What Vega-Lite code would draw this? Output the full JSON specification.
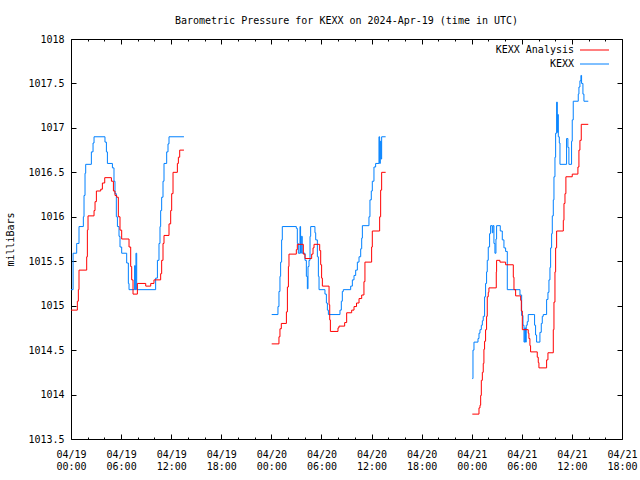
{
  "$schema": "https://vega.github.io/schema/vega-lite/v6.json",
  "autosize": "none",
  "width": 551,
  "height": 400,
  "padding": {"left": 71, "top": 39, "right": 18, "bottom": 41},
  "background": "white",
  "title": {"text": "Barometric Pressure for KEXX on 2024-Apr-19 (time in UTC)", "font": "DejaVu Sans Mono", "fontSize": 10, "fontWeight": "normal", "anchor": "middle", "offset": 8, "color": "black"},
  "config": {
    "view": {"stroke": "black", "strokeWidth": 1},
    "axis": {"domain": false, "grid": false, "tickColor": "black", "tickWidth": 1, "labelColor": "black", "labelFont": "DejaVu Sans Mono", "labelFontSize": 10, "titleFont": "DejaVu Sans Mono", "titleFontSize": 10, "titleFontWeight": "normal", "titleColor": "black"}
  },
  "datasets": {
    "pressure": [
      {"series": "KEXX", "run": 1, "hour": 0.00, "mb": 1015.18},
      {"series": "KEXX", "run": 1, "hour": 0.25, "mb": 1015.59},
      {"series": "KEXX", "run": 1, "hour": 0.68, "mb": 1015.70},
      {"series": "KEXX", "run": 1, "hour": 0.96, "mb": 1015.89},
      {"series": "KEXX", "run": 1, "hour": 1.48, "mb": 1016.00},
      {"series": "KEXX", "run": 1, "hour": 1.56, "mb": 1016.24},
      {"series": "KEXX", "run": 1, "hour": 1.68, "mb": 1016.49},
      {"series": "KEXX", "run": 1, "hour": 1.76, "mb": 1016.59},
      {"series": "KEXX", "run": 1, "hour": 2.44, "mb": 1016.73},
      {"series": "KEXX", "run": 1, "hour": 2.64, "mb": 1016.83},
      {"series": "KEXX", "run": 1, "hour": 2.76, "mb": 1016.90},
      {"series": "KEXX", "run": 1, "hour": 4.07, "mb": 1016.84},
      {"series": "KEXX", "run": 1, "hour": 4.24, "mb": 1016.73},
      {"series": "KEXX", "run": 1, "hour": 4.36, "mb": 1016.60},
      {"series": "KEXX", "run": 1, "hour": 4.96, "mb": 1016.55},
      {"series": "KEXX", "run": 1, "hour": 5.15, "mb": 1016.40},
      {"series": "KEXX", "run": 1, "hour": 5.27, "mb": 1016.26},
      {"series": "KEXX", "run": 1, "hour": 5.43, "mb": 1016.00},
      {"series": "KEXX", "run": 1, "hour": 5.56, "mb": 1015.89},
      {"series": "KEXX", "run": 1, "hour": 5.75, "mb": 1015.78},
      {"series": "KEXX", "run": 1, "hour": 5.87, "mb": 1015.66},
      {"series": "KEXX", "run": 1, "hour": 6.07, "mb": 1015.59},
      {"series": "KEXX", "run": 1, "hour": 6.67, "mb": 1015.48},
      {"series": "KEXX", "run": 1, "hour": 6.87, "mb": 1015.25},
      {"series": "KEXX", "run": 1, "hour": 6.95, "mb": 1015.18},
      {"series": "KEXX", "run": 1, "hour": 7.62, "mb": 1015.45},
      {"series": "KEXX", "run": 1, "hour": 7.70, "mb": 1015.18},
      {"series": "KEXX", "run": 1, "hour": 7.78, "mb": 1015.59},
      {"series": "KEXX", "run": 1, "hour": 7.87, "mb": 1015.18},
      {"series": "KEXX", "run": 1, "hour": 10.14, "mb": 1015.31},
      {"series": "KEXX", "run": 1, "hour": 10.35, "mb": 1015.51},
      {"series": "KEXX", "run": 1, "hour": 10.54, "mb": 1015.70},
      {"series": "KEXX", "run": 1, "hour": 10.66, "mb": 1015.89},
      {"series": "KEXX", "run": 1, "hour": 10.74, "mb": 1016.07},
      {"series": "KEXX", "run": 1, "hour": 10.86, "mb": 1016.22},
      {"series": "KEXX", "run": 1, "hour": 11.02, "mb": 1016.40},
      {"series": "KEXX", "run": 1, "hour": 11.14, "mb": 1016.60},
      {"series": "KEXX", "run": 1, "hour": 11.46, "mb": 1016.73},
      {"series": "KEXX", "run": 1, "hour": 11.62, "mb": 1016.82},
      {"series": "KEXX", "run": 1, "hour": 11.74, "mb": 1016.90},
      {"series": "KEXX", "run": 1, "hour": 13.53, "mb": 1016.90},

      {"series": "KEXX Analysis", "run": 1, "hour": 0.00, "mb": 1014.95},
      {"series": "KEXX Analysis", "run": 1, "hour": 0.76, "mb": 1015.05},
      {"series": "KEXX Analysis", "run": 1, "hour": 0.88, "mb": 1015.18},
      {"series": "KEXX Analysis", "run": 1, "hour": 0.96, "mb": 1015.40},
      {"series": "KEXX Analysis", "run": 1, "hour": 1.88, "mb": 1015.55},
      {"series": "KEXX Analysis", "run": 1, "hour": 1.96, "mb": 1015.85},
      {"series": "KEXX Analysis", "run": 1, "hour": 2.04, "mb": 1016.01},
      {"series": "KEXX Analysis", "run": 1, "hour": 2.76, "mb": 1016.07},
      {"series": "KEXX Analysis", "run": 1, "hour": 2.88, "mb": 1016.17},
      {"series": "KEXX Analysis", "run": 1, "hour": 3.04, "mb": 1016.29},
      {"series": "KEXX Analysis", "run": 1, "hour": 3.56, "mb": 1016.31},
      {"series": "KEXX Analysis", "run": 1, "hour": 3.76, "mb": 1016.38},
      {"series": "KEXX Analysis", "run": 1, "hour": 4.04, "mb": 1016.44},
      {"series": "KEXX Analysis", "run": 1, "hour": 4.84, "mb": 1016.40},
      {"series": "KEXX Analysis", "run": 1, "hour": 5.08, "mb": 1016.29},
      {"series": "KEXX Analysis", "run": 1, "hour": 5.27, "mb": 1016.24},
      {"series": "KEXX Analysis", "run": 1, "hour": 5.47, "mb": 1016.22},
      {"series": "KEXX Analysis", "run": 1, "hour": 5.67, "mb": 1016.00},
      {"series": "KEXX Analysis", "run": 1, "hour": 5.87, "mb": 1015.85},
      {"series": "KEXX Analysis", "run": 1, "hour": 6.07, "mb": 1015.75},
      {"series": "KEXX Analysis", "run": 1, "hour": 6.95, "mb": 1015.66},
      {"series": "KEXX Analysis", "run": 1, "hour": 7.15, "mb": 1015.44},
      {"series": "KEXX Analysis", "run": 1, "hour": 7.27, "mb": 1015.29},
      {"series": "KEXX Analysis", "run": 1, "hour": 7.43, "mb": 1015.13},
      {"series": "KEXX Analysis", "run": 1, "hour": 7.95, "mb": 1015.25},
      {"series": "KEXX Analysis", "run": 1, "hour": 8.95, "mb": 1015.22},
      {"series": "KEXX Analysis", "run": 1, "hour": 9.55, "mb": 1015.25},
      {"series": "KEXX Analysis", "run": 1, "hour": 9.94, "mb": 1015.29},
      {"series": "KEXX Analysis", "run": 1, "hour": 10.74, "mb": 1015.36},
      {"series": "KEXX Analysis", "run": 1, "hour": 10.86, "mb": 1015.51},
      {"series": "KEXX Analysis", "run": 1, "hour": 11.02, "mb": 1015.70},
      {"series": "KEXX Analysis", "run": 1, "hour": 11.14, "mb": 1015.79},
      {"series": "KEXX Analysis", "run": 1, "hour": 11.74, "mb": 1015.92},
      {"series": "KEXX Analysis", "run": 1, "hour": 11.94, "mb": 1016.07},
      {"series": "KEXX Analysis", "run": 1, "hour": 12.06, "mb": 1016.26},
      {"series": "KEXX Analysis", "run": 1, "hour": 12.22, "mb": 1016.50},
      {"series": "KEXX Analysis", "run": 1, "hour": 12.74, "mb": 1016.60},
      {"series": "KEXX Analysis", "run": 1, "hour": 12.86, "mb": 1016.67},
      {"series": "KEXX Analysis", "run": 1, "hour": 13.02, "mb": 1016.75},
      {"series": "KEXX Analysis", "run": 1, "hour": 13.53, "mb": 1016.75},

      {"series": "KEXX", "run": 2, "hour": 24.04, "mb": 1014.90},
      {"series": "KEXX", "run": 2, "hour": 24.79, "mb": 1014.99},
      {"series": "KEXX", "run": 2, "hour": 24.91, "mb": 1015.16},
      {"series": "KEXX", "run": 2, "hour": 25.03, "mb": 1015.33},
      {"series": "KEXX", "run": 2, "hour": 25.11, "mb": 1015.49},
      {"series": "KEXX", "run": 2, "hour": 25.23, "mb": 1015.74},
      {"series": "KEXX", "run": 2, "hour": 25.31, "mb": 1015.89},
      {"series": "KEXX", "run": 2, "hour": 26.99, "mb": 1015.87},
      {"series": "KEXX", "run": 2, "hour": 27.11, "mb": 1015.70},
      {"series": "KEXX", "run": 2, "hour": 27.23, "mb": 1015.59},
      {"series": "KEXX", "run": 2, "hour": 27.43, "mb": 1015.89},
      {"series": "KEXX", "run": 2, "hour": 27.50, "mb": 1015.59},
      {"series": "KEXX", "run": 2, "hour": 27.59, "mb": 1015.78},
      {"series": "KEXX", "run": 2, "hour": 27.70, "mb": 1015.59},
      {"series": "KEXX", "run": 2, "hour": 28.03, "mb": 1015.51},
      {"series": "KEXX", "run": 2, "hour": 28.19, "mb": 1015.33},
      {"series": "KEXX", "run": 2, "hour": 28.31, "mb": 1015.19},
      {"series": "KEXX", "run": 2, "hour": 28.39, "mb": 1015.44},
      {"series": "KEXX", "run": 2, "hour": 28.51, "mb": 1015.51},
      {"series": "KEXX", "run": 2, "hour": 28.63, "mb": 1015.78},
      {"series": "KEXX", "run": 2, "hour": 28.71, "mb": 1015.89},
      {"series": "KEXX", "run": 2, "hour": 29.22, "mb": 1015.82},
      {"series": "KEXX", "run": 2, "hour": 29.31, "mb": 1015.74},
      {"series": "KEXX", "run": 2, "hour": 29.51, "mb": 1015.55},
      {"series": "KEXX", "run": 2, "hour": 29.63, "mb": 1015.33},
      {"series": "KEXX", "run": 2, "hour": 29.71, "mb": 1015.18},
      {"series": "KEXX", "run": 2, "hour": 30.42, "mb": 1015.13},
      {"series": "KEXX", "run": 2, "hour": 30.59, "mb": 1015.03},
      {"series": "KEXX", "run": 2, "hour": 30.71, "mb": 1014.95},
      {"series": "KEXX", "run": 2, "hour": 30.83, "mb": 1014.90},
      {"series": "KEXX", "run": 2, "hour": 32.22, "mb": 1014.95},
      {"series": "KEXX", "run": 2, "hour": 32.38, "mb": 1015.05},
      {"series": "KEXX", "run": 2, "hour": 32.50, "mb": 1015.16},
      {"series": "KEXX", "run": 2, "hour": 32.62, "mb": 1015.18},
      {"series": "KEXX", "run": 2, "hour": 33.50, "mb": 1015.22},
      {"series": "KEXX", "run": 2, "hour": 33.70, "mb": 1015.29},
      {"series": "KEXX", "run": 2, "hour": 33.90, "mb": 1015.34},
      {"series": "KEXX", "run": 2, "hour": 34.10, "mb": 1015.40},
      {"series": "KEXX", "run": 2, "hour": 34.30, "mb": 1015.49},
      {"series": "KEXX", "run": 2, "hour": 34.50, "mb": 1015.55},
      {"series": "KEXX", "run": 2, "hour": 34.70, "mb": 1015.64},
      {"series": "KEXX", "run": 2, "hour": 34.82, "mb": 1015.76},
      {"series": "KEXX", "run": 2, "hour": 34.90, "mb": 1015.90},
      {"series": "KEXX", "run": 2, "hour": 35.69, "mb": 1016.00},
      {"series": "KEXX", "run": 2, "hour": 35.81, "mb": 1016.19},
      {"series": "KEXX", "run": 2, "hour": 35.97, "mb": 1016.29},
      {"series": "KEXX", "run": 2, "hour": 36.09, "mb": 1016.40},
      {"series": "KEXX", "run": 2, "hour": 36.29, "mb": 1016.56},
      {"series": "KEXX", "run": 2, "hour": 36.49, "mb": 1016.60},
      {"series": "KEXX", "run": 2, "hour": 36.89, "mb": 1016.90},
      {"series": "KEXX", "run": 2, "hour": 36.97, "mb": 1016.60},
      {"series": "KEXX", "run": 2, "hour": 37.05, "mb": 1016.85},
      {"series": "KEXX", "run": 2, "hour": 37.13, "mb": 1016.65},
      {"series": "KEXX", "run": 2, "hour": 37.21, "mb": 1016.90},
      {"series": "KEXX", "run": 2, "hour": 37.69, "mb": 1016.90},

      {"series": "KEXX Analysis", "run": 2, "hour": 24.04, "mb": 1014.57},
      {"series": "KEXX Analysis", "run": 2, "hour": 24.91, "mb": 1014.65},
      {"series": "KEXX Analysis", "run": 2, "hour": 25.03, "mb": 1014.74},
      {"series": "KEXX Analysis", "run": 2, "hour": 25.19, "mb": 1014.80},
      {"series": "KEXX Analysis", "run": 2, "hour": 25.80, "mb": 1014.93},
      {"series": "KEXX Analysis", "run": 2, "hour": 25.92, "mb": 1015.21},
      {"series": "KEXX Analysis", "run": 2, "hour": 26.04, "mb": 1015.44},
      {"series": "KEXX Analysis", "run": 2, "hour": 26.11, "mb": 1015.58},
      {"series": "KEXX Analysis", "run": 2, "hour": 26.99, "mb": 1015.63},
      {"series": "KEXX Analysis", "run": 2, "hour": 27.11, "mb": 1015.69},
      {"series": "KEXX Analysis", "run": 2, "hour": 27.83, "mb": 1015.58},
      {"series": "KEXX Analysis", "run": 2, "hour": 28.03, "mb": 1015.53},
      {"series": "KEXX Analysis", "run": 2, "hour": 28.83, "mb": 1015.58},
      {"series": "KEXX Analysis", "run": 2, "hour": 28.99, "mb": 1015.65},
      {"series": "KEXX Analysis", "run": 2, "hour": 29.11, "mb": 1015.69},
      {"series": "KEXX Analysis", "run": 2, "hour": 29.79, "mb": 1015.62},
      {"series": "KEXX Analysis", "run": 2, "hour": 29.91, "mb": 1015.46},
      {"series": "KEXX Analysis", "run": 2, "hour": 30.02, "mb": 1015.31},
      {"series": "KEXX Analysis", "run": 2, "hour": 30.11, "mb": 1015.22},
      {"series": "KEXX Analysis", "run": 2, "hour": 30.91, "mb": 1015.01},
      {"series": "KEXX Analysis", "run": 2, "hour": 30.99, "mb": 1014.84},
      {"series": "KEXX Analysis", "run": 2, "hour": 31.07, "mb": 1014.71},
      {"series": "KEXX Analysis", "run": 2, "hour": 31.98, "mb": 1014.75},
      {"series": "KEXX Analysis", "run": 2, "hour": 32.10, "mb": 1014.77},
      {"series": "KEXX Analysis", "run": 2, "hour": 32.78, "mb": 1014.81},
      {"series": "KEXX Analysis", "run": 2, "hour": 33.02, "mb": 1014.92},
      {"series": "KEXX Analysis", "run": 2, "hour": 33.62, "mb": 1014.95},
      {"series": "KEXX Analysis", "run": 2, "hour": 33.90, "mb": 1014.99},
      {"series": "KEXX Analysis", "run": 2, "hour": 34.20, "mb": 1015.03},
      {"series": "KEXX Analysis", "run": 2, "hour": 34.50, "mb": 1015.08},
      {"series": "KEXX Analysis", "run": 2, "hour": 34.82, "mb": 1015.12},
      {"series": "KEXX Analysis", "run": 2, "hour": 35.09, "mb": 1015.27},
      {"series": "KEXX Analysis", "run": 2, "hour": 35.21, "mb": 1015.49},
      {"series": "KEXX Analysis", "run": 2, "hour": 36.01, "mb": 1015.66},
      {"series": "KEXX Analysis", "run": 2, "hour": 36.09, "mb": 1015.84},
      {"series": "KEXX Analysis", "run": 2, "hour": 36.97, "mb": 1016.00},
      {"series": "KEXX Analysis", "run": 2, "hour": 37.09, "mb": 1016.30},
      {"series": "KEXX Analysis", "run": 2, "hour": 37.21, "mb": 1016.50},
      {"series": "KEXX Analysis", "run": 2, "hour": 37.69, "mb": 1016.50},

      {"series": "KEXX", "run": 3, "hour": 48.07, "mb": 1014.18},
      {"series": "KEXX", "run": 3, "hour": 48.15, "mb": 1014.50},
      {"series": "KEXX", "run": 3, "hour": 48.27, "mb": 1014.59},
      {"series": "KEXX", "run": 3, "hour": 48.75, "mb": 1014.63},
      {"series": "KEXX", "run": 3, "hour": 48.87, "mb": 1014.69},
      {"series": "KEXX", "run": 3, "hour": 48.99, "mb": 1014.73},
      {"series": "KEXX", "run": 3, "hour": 49.15, "mb": 1014.78},
      {"series": "KEXX", "run": 3, "hour": 49.27, "mb": 1014.83},
      {"series": "KEXX", "run": 3, "hour": 49.38, "mb": 1014.88},
      {"series": "KEXX", "run": 3, "hour": 49.54, "mb": 1015.10},
      {"series": "KEXX", "run": 3, "hour": 49.66, "mb": 1015.25},
      {"series": "KEXX", "run": 3, "hour": 49.78, "mb": 1015.38},
      {"series": "KEXX", "run": 3, "hour": 49.86, "mb": 1015.51},
      {"series": "KEXX", "run": 3, "hour": 49.98, "mb": 1015.66},
      {"series": "KEXX", "run": 3, "hour": 50.14, "mb": 1015.81},
      {"series": "KEXX", "run": 3, "hour": 50.26, "mb": 1015.90},
      {"series": "KEXX", "run": 3, "hour": 50.46, "mb": 1015.82},
      {"series": "KEXX", "run": 3, "hour": 50.54, "mb": 1015.90},
      {"series": "KEXX", "run": 3, "hour": 50.66, "mb": 1015.70},
      {"series": "KEXX", "run": 3, "hour": 50.78, "mb": 1015.59},
      {"series": "KEXX", "run": 3, "hour": 50.90, "mb": 1015.75},
      {"series": "KEXX", "run": 3, "hour": 50.98, "mb": 1015.90},
      {"series": "KEXX", "run": 3, "hour": 51.42, "mb": 1015.84},
      {"series": "KEXX", "run": 3, "hour": 51.66, "mb": 1015.74},
      {"series": "KEXX", "run": 3, "hour": 51.86, "mb": 1015.65},
      {"series": "KEXX", "run": 3, "hour": 52.06, "mb": 1015.61},
      {"series": "KEXX", "run": 3, "hour": 52.26, "mb": 1015.18},
      {"series": "KEXX", "run": 3, "hour": 53.78, "mb": 1015.12},
      {"series": "KEXX", "run": 3, "hour": 53.98, "mb": 1014.89},
      {"series": "KEXX", "run": 3, "hour": 54.14, "mb": 1014.78},
      {"series": "KEXX", "run": 3, "hour": 54.26, "mb": 1014.59},
      {"series": "KEXX", "run": 3, "hour": 54.35, "mb": 1014.75},
      {"series": "KEXX", "run": 3, "hour": 54.45, "mb": 1014.59},
      {"series": "KEXX", "run": 3, "hour": 54.53, "mb": 1014.78},
      {"series": "KEXX", "run": 3, "hour": 54.65, "mb": 1014.82},
      {"series": "KEXX", "run": 3, "hour": 54.77, "mb": 1014.90},
      {"series": "KEXX", "run": 3, "hour": 55.45, "mb": 1014.90},
      {"series": "KEXX", "run": 3, "hour": 55.53, "mb": 1014.78},
      {"series": "KEXX", "run": 3, "hour": 55.65, "mb": 1014.67},
      {"series": "KEXX", "run": 3, "hour": 55.77, "mb": 1014.59},
      {"series": "KEXX", "run": 3, "hour": 56.17, "mb": 1014.70},
      {"series": "KEXX", "run": 3, "hour": 56.33, "mb": 1014.80},
      {"series": "KEXX", "run": 3, "hour": 56.45, "mb": 1014.88},
      {"series": "KEXX", "run": 3, "hour": 56.57, "mb": 1014.90},
      {"series": "KEXX", "run": 3, "hour": 56.97, "mb": 1015.07},
      {"series": "KEXX", "run": 3, "hour": 57.13, "mb": 1015.15},
      {"series": "KEXX", "run": 3, "hour": 57.25, "mb": 1015.29},
      {"series": "KEXX", "run": 3, "hour": 57.37, "mb": 1015.43},
      {"series": "KEXX", "run": 3, "hour": 57.45, "mb": 1015.65},
      {"series": "KEXX", "run": 3, "hour": 57.57, "mb": 1015.81},
      {"series": "KEXX", "run": 3, "hour": 57.65, "mb": 1016.01},
      {"series": "KEXX", "run": 3, "hour": 57.77, "mb": 1016.19},
      {"series": "KEXX", "run": 3, "hour": 57.85, "mb": 1016.45},
      {"series": "KEXX", "run": 3, "hour": 57.97, "mb": 1016.67},
      {"series": "KEXX", "run": 3, "hour": 58.05, "mb": 1016.94},
      {"series": "KEXX", "run": 3, "hour": 58.17, "mb": 1017.29},
      {"series": "KEXX", "run": 3, "hour": 58.25, "mb": 1016.95},
      {"series": "KEXX", "run": 3, "hour": 58.31, "mb": 1017.15},
      {"series": "KEXX", "run": 3, "hour": 58.37, "mb": 1016.90},
      {"series": "KEXX", "run": 3, "hour": 58.49, "mb": 1016.83},
      {"series": "KEXX", "run": 3, "hour": 58.57, "mb": 1016.59},
      {"series": "KEXX", "run": 3, "hour": 59.36, "mb": 1016.88},
      {"series": "KEXX", "run": 3, "hour": 59.52, "mb": 1016.78},
      {"series": "KEXX", "run": 3, "hour": 59.64, "mb": 1016.59},
      {"series": "KEXX", "run": 3, "hour": 59.96, "mb": 1016.85},
      {"series": "KEXX", "run": 3, "hour": 60.04, "mb": 1017.09},
      {"series": "KEXX", "run": 3, "hour": 60.16, "mb": 1017.30},
      {"series": "KEXX", "run": 3, "hour": 60.76, "mb": 1017.38},
      {"series": "KEXX", "run": 3, "hour": 60.84, "mb": 1017.46},
      {"series": "KEXX", "run": 3, "hour": 60.96, "mb": 1017.53},
      {"series": "KEXX", "run": 3, "hour": 61.08, "mb": 1017.59},
      {"series": "KEXX", "run": 3, "hour": 61.16, "mb": 1017.50},
      {"series": "KEXX", "run": 3, "hour": 61.32, "mb": 1017.38},
      {"series": "KEXX", "run": 3, "hour": 61.44, "mb": 1017.30},
      {"series": "KEXX", "run": 3, "hour": 61.96, "mb": 1017.30},

      {"series": "KEXX Analysis", "run": 3, "hour": 48.07, "mb": 1013.78},
      {"series": "KEXX Analysis", "run": 3, "hour": 48.87, "mb": 1013.85},
      {"series": "KEXX Analysis", "run": 3, "hour": 48.99, "mb": 1013.88},
      {"series": "KEXX Analysis", "run": 3, "hour": 49.07, "mb": 1013.99},
      {"series": "KEXX Analysis", "run": 3, "hour": 49.15, "mb": 1014.16},
      {"series": "KEXX Analysis", "run": 3, "hour": 49.27, "mb": 1014.25},
      {"series": "KEXX Analysis", "run": 3, "hour": 49.38, "mb": 1014.35},
      {"series": "KEXX Analysis", "run": 3, "hour": 49.46, "mb": 1014.51},
      {"series": "KEXX Analysis", "run": 3, "hour": 49.54, "mb": 1014.60},
      {"series": "KEXX Analysis", "run": 3, "hour": 49.66, "mb": 1014.73},
      {"series": "KEXX Analysis", "run": 3, "hour": 49.78, "mb": 1014.88},
      {"series": "KEXX Analysis", "run": 3, "hour": 49.86, "mb": 1015.10},
      {"series": "KEXX Analysis", "run": 3, "hour": 49.98, "mb": 1015.15},
      {"series": "KEXX Analysis", "run": 3, "hour": 50.06, "mb": 1015.20},
      {"series": "KEXX Analysis", "run": 3, "hour": 50.94, "mb": 1015.38},
      {"series": "KEXX Analysis", "run": 3, "hour": 50.98, "mb": 1015.51},
      {"series": "KEXX Analysis", "run": 3, "hour": 51.38, "mb": 1015.49},
      {"series": "KEXX Analysis", "run": 3, "hour": 52.06, "mb": 1015.46},
      {"series": "KEXX Analysis", "run": 3, "hour": 52.98, "mb": 1015.32},
      {"series": "KEXX Analysis", "run": 3, "hour": 53.06, "mb": 1015.18},
      {"series": "KEXX Analysis", "run": 3, "hour": 53.26, "mb": 1015.11},
      {"series": "KEXX Analysis", "run": 3, "hour": 53.86, "mb": 1015.06},
      {"series": "KEXX Analysis", "run": 3, "hour": 53.94, "mb": 1014.94},
      {"series": "KEXX Analysis", "run": 3, "hour": 54.06, "mb": 1014.73},
      {"series": "KEXX Analysis", "run": 3, "hour": 54.77, "mb": 1014.69},
      {"series": "KEXX Analysis", "run": 3, "hour": 54.85, "mb": 1014.63},
      {"series": "KEXX Analysis", "run": 3, "hour": 54.97, "mb": 1014.55},
      {"series": "KEXX Analysis", "run": 3, "hour": 55.05, "mb": 1014.48},
      {"series": "KEXX Analysis", "run": 3, "hour": 55.85, "mb": 1014.42},
      {"series": "KEXX Analysis", "run": 3, "hour": 55.97, "mb": 1014.36},
      {"series": "KEXX Analysis", "run": 3, "hour": 56.05, "mb": 1014.30},
      {"series": "KEXX Analysis", "run": 3, "hour": 56.97, "mb": 1014.39},
      {"series": "KEXX Analysis", "run": 3, "hour": 57.13, "mb": 1014.47},
      {"series": "KEXX Analysis", "run": 3, "hour": 57.77, "mb": 1014.73},
      {"series": "KEXX Analysis", "run": 3, "hour": 57.85, "mb": 1015.04},
      {"series": "KEXX Analysis", "run": 3, "hour": 57.97, "mb": 1015.38},
      {"series": "KEXX Analysis", "run": 3, "hour": 58.05, "mb": 1015.65},
      {"series": "KEXX Analysis", "run": 3, "hour": 58.17, "mb": 1015.84},
      {"series": "KEXX Analysis", "run": 3, "hour": 58.97, "mb": 1015.96},
      {"series": "KEXX Analysis", "run": 3, "hour": 59.05, "mb": 1016.15},
      {"series": "KEXX Analysis", "run": 3, "hour": 59.17, "mb": 1016.26},
      {"series": "KEXX Analysis", "run": 3, "hour": 59.28, "mb": 1016.45},
      {"series": "KEXX Analysis", "run": 3, "hour": 60.04, "mb": 1016.48},
      {"series": "KEXX Analysis", "run": 3, "hour": 60.72, "mb": 1016.56},
      {"series": "KEXX Analysis", "run": 3, "hour": 60.84, "mb": 1016.75},
      {"series": "KEXX Analysis", "run": 3, "hour": 60.96, "mb": 1016.86},
      {"series": "KEXX Analysis", "run": 3, "hour": 61.12, "mb": 1017.04},
      {"series": "KEXX Analysis", "run": 3, "hour": 61.96, "mb": 1017.04}
    ]
  },
  "data": {"name": "pressure"},
  "layer": [
    {
      "mark": {"type": "line", "interpolate": "step-after", "strokeWidth": 1},
      "encoding": {
        "x": {"field": "hour", "type": "quantitative",
              "scale": {"domain": [0, 66], "nice": false, "zero": false},
              "axis": {"orient": "bottom", "title": null,
                       "values": [0,2,4,6,8,10,12,14,16,18,20,22,24,26,28,30,32,34,36,38,40,42,44,46,48,50,52,54,56,58,60,62,64,66],
                       "tickSize": {"condition": {"test": "datum.value % 6 === 0", "value": -5}, "value": -2},
                       "labelExpr": "datum.value % 6 === 0 ? ['04/' + (19 + floor(datum.value / 24)), (datum.value % 24 < 10 ? '0' : '') + (datum.value % 24) + ':00'] : ''",
                       "labelBaseline": "top", "labelLineHeight": 12, "labelPadding": 15, "labelFlush": false, "labelOverlap": false, "labelAngle": 0}},
        "y": {"field": "mb", "type": "quantitative",
              "scale": {"domain": [1013.5, 1018], "nice": false, "zero": false},
              "axis": {"orient": "left", "title": "milliBars",
                       "values": [1013.5,1014,1014.5,1015,1015.5,1016,1016.5,1017,1017.5,1018],
                       "format": "~f", "tickSize": -5, "labelPadding": 12, "titlePadding": 12, "labelFlush": false, "labelOverlap": false}},
        "color": {"field": "series", "type": "nominal",
                  "scale": {"domain": ["KEXX Analysis", "KEXX"], "range": ["#ff0000", "#0080ff"]},
                  "legend": {"orient": "none", "legendX": 503, "legendY": 5.5, "title": null, "padding": 0,
                             "symbolType": "M-2.9,0H2.9", "symbolSize": 100, "symbolStrokeWidth": 1, "symbolOpacity": 1,
                             "labelAlign": "right", "labelOffset": -26, "symbolOffset": 15, "rowPadding": 3,
                             "labelFont": "DejaVu Sans Mono", "labelFontSize": 10, "labelColor": "black"}},
        "detail": {"field": "run"}
      }
    },
    {
      "mark": {"type": "line", "interpolate": "step-after", "strokeWidth": 1, "strokeOpacity": 0},
      "encoding": {
        "x": {"field": "hour", "type": "quantitative",
              "axis": {"orient": "top", "title": null, "labels": false,
                       "values": [0,2,4,6,8,10,12,14,16,18,20,22,24,26,28,30,32,34,36,38,40,42,44,46,48,50,52,54,56,58,60,62,64,66],
                       "tickSize": {"condition": {"test": "datum.value % 6 === 0", "value": -5}, "value": -2}}},
        "y": {"field": "mb", "type": "quantitative",
              "axis": {"orient": "right", "title": null, "labels": false,
                       "values": [1013.5,1014,1014.5,1015,1015.5,1016,1016.5,1017,1017.5,1018], "tickSize": -5}},
        "detail": [{"field": "series"}, {"field": "run"}]
      }
    }
  ],
  "resolve": {"axis": {"x": "independent", "y": "independent"}}
}
